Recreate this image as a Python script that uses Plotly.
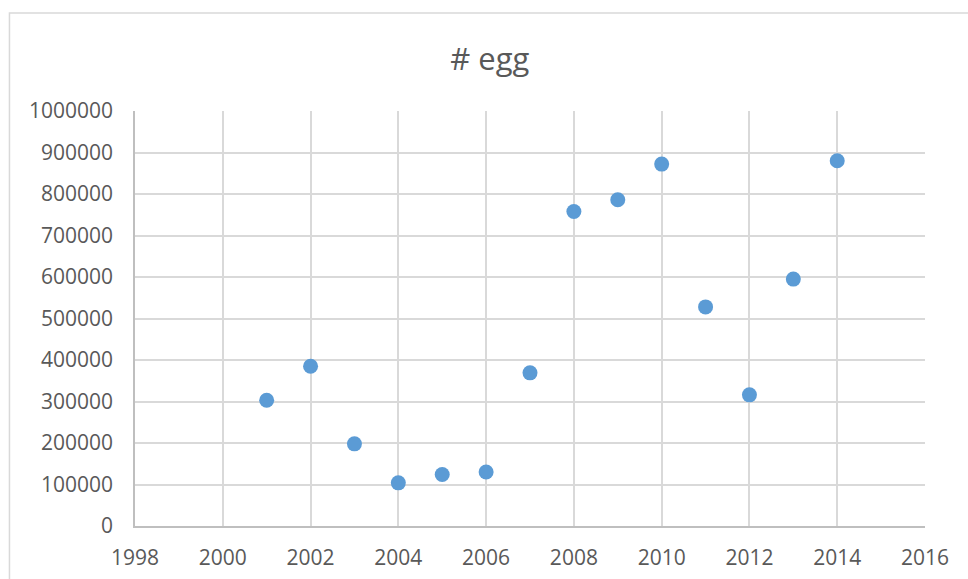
import plotly.graph_objects as go

# Yearly egg counts
years = [2001, 2002, 2003, 2004, 2005, 2006, 2007, 2008, 2009, 2010, 2011, 2012, 2013, 2014]
eggs = [303000, 385000, 198000, 104000, 124000, 130000, 369000,
        758000, 786000, 872000, 528000, 316000, 595000, 880000]

x_ticks = list(range(1998, 2017, 2))
y_ticks = list(range(0, 1000001, 100000))

font_family = "Open Sans, Liberation Sans, sans-serif"
text_color = "#595959"
grid_color = "#d9d9d9"
axis_color = "#bfbfbf"

fig = go.Figure()
fig.add_trace(go.Scatter(
    x=years, y=eggs, mode="markers",
    marker=dict(color="#5B9BD5", size=15, line=dict(width=0)),
    showlegend=False,
))

fig.update_layout(
    width=968, height=579,
    margin=dict(l=135, r=43, t=111, b=53, autoexpand=False),
    paper_bgcolor="white", plot_bgcolor="white",
    title=dict(text="# egg", x=0.506, xanchor="center", y=0.897, yanchor="middle",
               font=dict(family=font_family, size=31, color=text_color)),
    font=dict(family=font_family, color=text_color),
    shapes=[dict(type="rect", xref="paper", yref="paper",
                 x0=-0.1589, x1=1.2, y0=-0.3, y1=1.236,
                 line=dict(color=grid_color, width=1.5), fillcolor="rgba(0,0,0,0)",
                 layer="below")],
)

fig.update_xaxes(
    range=[1998, 2016], tickvals=x_ticks, ticktext=[str(v) for v in x_ticks],
    showgrid=True, gridcolor=grid_color, gridwidth=1.5,
    showline=True, linecolor=axis_color, linewidth=1.5,
    zeroline=False, ticks="", ticklabelstandoff=12, automargin=False,
    tickfont=dict(family=font_family, size=21, color=text_color),
)
fig.update_yaxes(
    range=[0, 1000000], tickvals=y_ticks, ticktext=[str(v) for v in y_ticks],
    showgrid=True, gridcolor=grid_color, gridwidth=1.5,
    showline=True, linecolor=axis_color, linewidth=1.5,
    zeroline=False, ticks="", ticklabelstandoff=16, automargin=False,
    tickfont=dict(family=font_family, size=21, color=text_color),
)

fig.write_html("out.html")
